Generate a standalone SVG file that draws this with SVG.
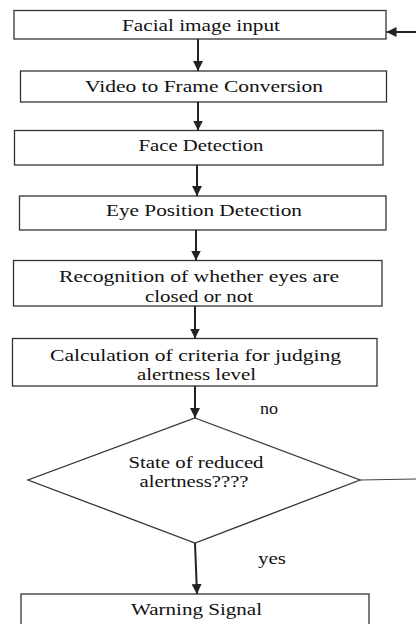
<svg xmlns="http://www.w3.org/2000/svg" width="416" height="624" viewBox="0 0 416 624">
<style>
.box{fill:#fff;stroke:#333;stroke-width:1.3}
.t{font-family:"Liberation Serif","DejaVu Serif",serif;font-size:16px;fill:#111;text-anchor:middle}
.c{stroke:#222;stroke-width:2;fill:none}
.thin{stroke:#444;stroke-width:1.2;fill:none}
</style>
<defs>
<marker id="ah" viewBox="0 0 10 10" refX="10" refY="5" markerWidth="5" markerHeight="5" orient="auto" markerUnits="strokeWidth">
<path d="M0,0 L10,5 L0,10 z" fill="#222"/>
</marker>
</defs>
<rect width="416" height="624" fill="#fff"/>
<g id="n1"><rect class="box" x="14" y="10.5" width="372" height="28.5"/><text class="t" font-family="Liberation Serif, serif" x="201" y="31" textLength="158" lengthAdjust="spacingAndGlyphs">Facial image input</text></g>
<g id="n2"><rect class="box" x="20.5" y="71" width="366" height="31"/><text class="t" x="204" y="92" textLength="238" lengthAdjust="spacingAndGlyphs">Video to Frame Conversion</text></g>
<g id="n3"><rect class="box" x="14.5" y="130.5" width="368.5" height="34.5"/><text class="t" x="201" y="151" textLength="125" lengthAdjust="spacingAndGlyphs">Face Detection</text></g>
<g id="n4"><rect class="box" x="19.5" y="196" width="366.5" height="34"/><text class="t" x="204" y="216" textLength="196" lengthAdjust="spacingAndGlyphs">Eye Position Detection</text></g>
<g id="n5"><rect class="box" x="13.5" y="260.5" width="368.5" height="45.5"/><text class="t" x="199" y="282" textLength="280" lengthAdjust="spacingAndGlyphs">Recognition of whether eyes are</text><text class="t" x="199" y="301.5" textLength="108" lengthAdjust="spacingAndGlyphs">closed or not</text></g>
<g id="n6"><rect class="box" x="12.5" y="338.5" width="364.5" height="47.5"/><text class="t" x="195.5" y="360.5" textLength="291" lengthAdjust="spacingAndGlyphs">Calculation of criteria for judging</text><text class="t" x="196.5" y="380" textLength="119" lengthAdjust="spacingAndGlyphs">alertness level</text></g>
<g id="n7"><polygon class="box" points="195,418 360,480 195,543 28,480"/><text class="t" x="196" y="467.5" textLength="135" lengthAdjust="spacingAndGlyphs">State of reduced</text><text class="t" x="194" y="486.5" textLength="109" lengthAdjust="spacingAndGlyphs">alertness????</text></g>
<g id="n8"><rect class="box" x="21" y="594" width="348" height="40"/><text class="t" x="196.5" y="615" textLength="131" lengthAdjust="spacingAndGlyphs">Warning Signal</text></g>
<g id="connectors">
<line class="c" x1="198" y1="39" x2="198" y2="71" marker-end="url(#ah)"/>
<line class="c" x1="198" y1="102" x2="198" y2="130.5" marker-end="url(#ah)"/>
<line class="c" x1="197" y1="165" x2="197" y2="196" marker-end="url(#ah)"/>
<line class="c" x1="196" y1="230" x2="196" y2="260.5" marker-end="url(#ah)"/>
<line class="c" x1="195" y1="306" x2="195" y2="338.5" marker-end="url(#ah)"/>
<line class="c" x1="195" y1="386" x2="195" y2="418" marker-end="url(#ah)"/>
<line class="c" x1="195" y1="543" x2="197" y2="594" marker-end="url(#ah)"/>
<line class="thin" x1="360" y1="480" x2="416" y2="479"/>
<line class="c" x1="416" y1="32" x2="386.5" y2="32" marker-end="url(#ah)"/>
<text class="t" x="269" y="414" textLength="18" lengthAdjust="spacingAndGlyphs">no</text>
<text class="t" x="272" y="564" textLength="28" lengthAdjust="spacingAndGlyphs">yes</text>
</g>
</svg>
